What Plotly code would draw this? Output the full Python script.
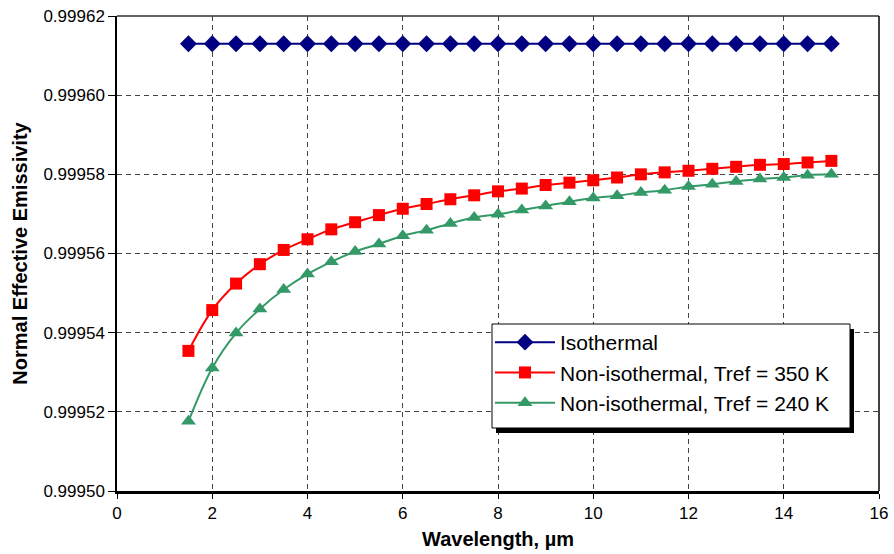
import plotly.graph_objects as go

wavelength = [1.5, 2, 2.5, 3, 3.5, 4, 4.5, 5, 5.5, 6, 6.5, 7, 7.5, 8, 8.5, 9, 9.5,
              10, 10.5, 11, 11.5, 12, 12.5, 13, 13.5, 14, 14.5, 15]
isothermal = [0.999613] * len(wavelength)
tref_350 = [0.9995354, 0.9995457, 0.9995524, 0.9995573, 0.9995609, 0.9995636, 0.9995661,
            0.9995679, 0.9995697, 0.9995713, 0.9995725, 0.9995737, 0.9995747, 0.9995757,
            0.9995764, 0.9995773, 0.9995779, 0.9995785, 0.9995792, 0.9995800, 0.9995805,
            0.9995809, 0.9995814, 0.9995819, 0.9995824, 0.9995826, 0.9995830, 0.9995834]
tref_240 = [0.9995176, 0.9995311, 0.9995399, 0.9995460, 0.9995509, 0.9995548, 0.9995579,
            0.9995605, 0.9995624, 0.9995645, 0.9995659, 0.9995676, 0.9995691, 0.9995699,
            0.9995710, 0.9995720, 0.9995731, 0.9995740, 0.9995746, 0.9995754, 0.9995760,
            0.9995769, 0.9995775, 0.9995782, 0.9995788, 0.9995792, 0.9995798, 0.9995800]

fig = go.Figure()
fig.add_trace(go.Scatter(x=wavelength, y=isothermal, mode="lines+markers", name="Isothermal",
                         legendgroup="a",
                         line=dict(color="#000080", width=2),
                         marker=dict(symbol="diamond", size=13, color="#000080")))
fig.add_trace(go.Scatter(x=wavelength, y=tref_350, mode="lines+markers",
                         name="Non-isothermal, Tref = 350 K", legendgroup="b",
                         line=dict(color="#FF0000", width=2, shape="spline"),
                         marker=dict(symbol="square", size=12, color="#FF0000")))
fig.add_trace(go.Scatter(x=wavelength, y=tref_240, mode="lines+markers",
                         name="Non-isothermal, Tref = 240 K", legendgroup="c",
                         line=dict(color="#339966", width=2, shape="spline"),
                         marker=dict(symbol="triangle-up", size=13, color="#339966")))

W, H = 894, 554
L, R, T, B = 117, 15, 16, 63
pw, ph = W - L - R, H - T - B

def px_x(p):
    return (p - L) / pw

def px_y(p):
    return (H - B - p) / ph

# legend shadow and box
fig.add_shape(type="rect", xref="paper", yref="paper",
              x0=px_x(496), x1=px_x(854), y0=px_y(433), y1=px_y(329),
              fillcolor="black", line=dict(width=0), layer="above")
fig.add_shape(type="rect", xref="paper", yref="paper",
              x0=px_x(492), x1=px_x(850), y0=px_y(428), y1=px_y(324),
              fillcolor="white", line=dict(color="black", width=1), layer="above")

fig.update_layout(
    width=W, height=H,
    margin=dict(l=L, r=R, t=T, b=B, autoexpand=False),
    paper_bgcolor="white", plot_bgcolor="white",
    font=dict(family="Liberation Sans, Arial, sans-serif", color="black", size=17),
    showlegend=True,
    legend=dict(x=px_x(490), y=px_y(322), xanchor="left", yanchor="top",
                bgcolor="rgba(0,0,0,0)", borderwidth=0,
                font=dict(size=21), itemwidth=60, tracegroupgap=10,
                traceorder="normal"),
    xaxis=dict(range=[0, 16], dtick=2, tick0=0, automargin=False,
               showgrid=True, gridcolor="#444444", griddash="5px,4px", gridwidth=1,
               showline=True, linecolor="black", linewidth=2.5, mirror=False,
               ticks="outside", ticklen=5, tickcolor="black", zeroline=False,
               title=dict(text="<b>Wavelength, µm</b>", font=dict(size=20), standoff=10)),
    yaxis=dict(range=[0.99950, 0.99962], dtick=0.00002, tick0=0.99950, tickformat=".5f",
               automargin=False,
               showgrid=True, gridcolor="#444444", griddash="5px,4px", gridwidth=1,
               showline=True, linecolor="black", linewidth=1.5, mirror=False,
               ticks="outside", ticklen=7, tickcolor="black", zeroline=False,
               title=dict(text="<b>Normal Effective Emissivity</b>", font=dict(size=20), standoff=10)),
)

# top and right border lines
fig.add_shape(type="line", xref="paper", yref="paper", x0=0, x1=1, y0=1, y1=1,
              line=dict(color="#333333", width=1.5))
fig.add_shape(type="line", xref="paper", yref="paper", x0=1, x1=1, y0=0, y1=1,
              line=dict(color="black", width=1.5))

fig.write_html("out.html")
